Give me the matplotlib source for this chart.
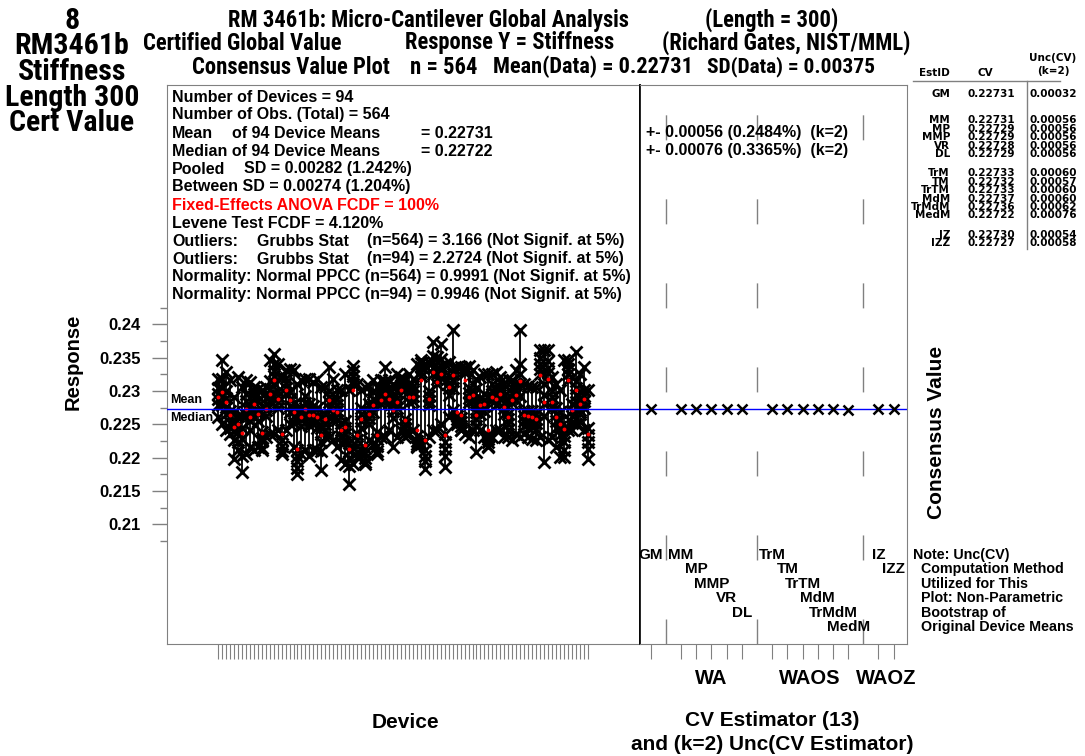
import numpy as np
import matplotlib
matplotlib.use('Agg')
import matplotlib.pyplot as plt
import matplotlib.font_manager as fm

W, H = 1085, 756

device_obs = [
    [0.2318, 0.2305, 0.2296, 0.2288, 0.2279, 0.2261],
    [0.2346, 0.2318, 0.2304, 0.2293, 0.2279, 0.2251],
    [0.2328, 0.2300, 0.2290, 0.2276, 0.2266, 0.2241],
    [0.2316, 0.2270, 0.2262, 0.2252, 0.2245, 0.2236],
    [0.2291, 0.2268, 0.2252, 0.2240, 0.2226, 0.2198],
    [0.2321, 0.2262, 0.2250, 0.2238, 0.2224, 0.2211],
    [0.2306, 0.2262, 0.2245, 0.2228, 0.2202, 0.2178],
    [0.2316, 0.2295, 0.2285, 0.2275, 0.2264, 0.2206],
    [0.2313, 0.2275, 0.2265, 0.2255, 0.2242, 0.2216],
    [0.2306, 0.2300, 0.2295, 0.2290, 0.2284, 0.2211],
    [0.2303, 0.2285, 0.2272, 0.2265, 0.2255, 0.2216],
    [0.2301, 0.2238, 0.2230, 0.2225, 0.2215, 0.2211],
    [0.2306, 0.2290, 0.2280, 0.2272, 0.2262, 0.2231],
    [0.2346, 0.2315, 0.2303, 0.2293, 0.2283, 0.2236],
    [0.2356, 0.2340, 0.2330, 0.2322, 0.2312, 0.2236],
    [0.2341, 0.2300, 0.2292, 0.2283, 0.2274, 0.2241],
    [0.2321, 0.2235, 0.2226, 0.2218, 0.2210, 0.2206],
    [0.2331, 0.2320, 0.2312, 0.2305, 0.2297, 0.2241],
    [0.2333, 0.2298, 0.2288, 0.2278, 0.2268, 0.2251],
    [0.2331, 0.2280, 0.2270, 0.2262, 0.2252, 0.2216],
    [0.2311, 0.2212, 0.2203, 0.2195, 0.2184, 0.2176],
    [0.2316, 0.2275, 0.2265, 0.2257, 0.2247, 0.2206],
    [0.2318, 0.2292, 0.2282, 0.2274, 0.2264, 0.2211],
    [0.2318, 0.2280, 0.2270, 0.2260, 0.2249, 0.2203],
    [0.2313, 0.2278, 0.2268, 0.2260, 0.2250, 0.2211],
    [0.2318, 0.2275, 0.2263, 0.2255, 0.2244, 0.2211],
    [0.2306, 0.2245, 0.2235, 0.2224, 0.2210, 0.2181],
    [0.2306, 0.2265, 0.2257, 0.2250, 0.2242, 0.2231],
    [0.2336, 0.2300, 0.2291, 0.2283, 0.2275, 0.2231],
    [0.2318, 0.2285, 0.2275, 0.2266, 0.2256, 0.2226],
    [0.2301, 0.2288, 0.2279, 0.2270, 0.2257, 0.2216],
    [0.2301, 0.2252, 0.2242, 0.2233, 0.2222, 0.2196],
    [0.2326, 0.2255, 0.2245, 0.2235, 0.2224, 0.2191],
    [0.2301, 0.2222, 0.2210, 0.2200, 0.2187, 0.2161],
    [0.2338, 0.2330, 0.2322, 0.2315, 0.2310, 0.2191],
    [0.2311, 0.2236, 0.2226, 0.2218, 0.2209, 0.2201],
    [0.2301, 0.2275, 0.2265, 0.2255, 0.2244, 0.2211],
    [0.2306, 0.2215, 0.2207, 0.2200, 0.2193, 0.2191],
    [0.2308, 0.2280, 0.2268, 0.2260, 0.2251, 0.2226],
    [0.2316, 0.2298, 0.2288, 0.2280, 0.2268, 0.2221],
    [0.2306, 0.2238, 0.2228, 0.2218, 0.2210, 0.2206],
    [0.2316, 0.2305, 0.2296, 0.2288, 0.2280, 0.2231],
    [0.2336, 0.2315, 0.2306, 0.2298, 0.2290, 0.2231],
    [0.2316, 0.2305, 0.2297, 0.2290, 0.2282, 0.2241],
    [0.2311, 0.2290, 0.2280, 0.2270, 0.2259, 0.2216],
    [0.2326, 0.2298, 0.2290, 0.2282, 0.2274, 0.2231],
    [0.2321, 0.2318, 0.2314, 0.2309, 0.2303, 0.2241],
    [0.2316, 0.2258, 0.2250, 0.2244, 0.2237, 0.2231],
    [0.2326, 0.2308, 0.2300, 0.2292, 0.2284, 0.2236],
    [0.2318, 0.2308, 0.2300, 0.2293, 0.2285, 0.2241],
    [0.2341, 0.2232, 0.2225, 0.2220, 0.2218, 0.2216],
    [0.2346, 0.2342, 0.2336, 0.2328, 0.2322, 0.2221],
    [0.2338, 0.2225, 0.2212, 0.2203, 0.2195, 0.2183],
    [0.2343, 0.2300, 0.2292, 0.2285, 0.2279, 0.2231],
    [0.2373, 0.2352, 0.2343, 0.2335, 0.2326, 0.2241],
    [0.2351, 0.2335, 0.2326, 0.2318, 0.2310, 0.2241],
    [0.2371, 0.2348, 0.2338, 0.2328, 0.2320, 0.2251],
    [0.2341, 0.2235, 0.2224, 0.2213, 0.2202, 0.2186],
    [0.2343, 0.2322, 0.2312, 0.2304, 0.2294, 0.2261],
    [0.2391, 0.2335, 0.2325, 0.2315, 0.2304, 0.2271],
    [0.2336, 0.2262, 0.2258, 0.2254, 0.2252, 0.2251],
    [0.2336, 0.2260, 0.2254, 0.2248, 0.2242, 0.2241],
    [0.2336, 0.2335, 0.2332, 0.2330, 0.2327, 0.2236],
    [0.2338, 0.2305, 0.2297, 0.2290, 0.2284, 0.2231],
    [0.2331, 0.2310, 0.2300, 0.2294, 0.2285, 0.2241],
    [0.2318, 0.2280, 0.2268, 0.2258, 0.2248, 0.2208],
    [0.2321, 0.2290, 0.2281, 0.2273, 0.2265, 0.2241],
    [0.2326, 0.2295, 0.2286, 0.2278, 0.2270, 0.2231],
    [0.2326, 0.2234, 0.2228, 0.2224, 0.2218, 0.2216],
    [0.2326, 0.2310, 0.2300, 0.2293, 0.2286, 0.2231],
    [0.2328, 0.2302, 0.2294, 0.2286, 0.2279, 0.2241],
    [0.2321, 0.2314, 0.2306, 0.2300, 0.2294, 0.2241],
    [0.2311, 0.2292, 0.2282, 0.2275, 0.2265, 0.2231],
    [0.2318, 0.2266, 0.2258, 0.2250, 0.2242, 0.2231],
    [0.2316, 0.2305, 0.2297, 0.2290, 0.2282, 0.2226],
    [0.2331, 0.2310, 0.2302, 0.2295, 0.2287, 0.2236],
    [0.2391, 0.2340, 0.2325, 0.2310, 0.2293, 0.2231],
    [0.2311, 0.2270, 0.2262, 0.2255, 0.2247, 0.2236],
    [0.2308, 0.2270, 0.2262, 0.2255, 0.2245, 0.2231],
    [0.2306, 0.2270, 0.2262, 0.2254, 0.2246, 0.2228],
    [0.2306, 0.2266, 0.2258, 0.2252, 0.2243, 0.2226],
    [0.2361, 0.2350, 0.2340, 0.2333, 0.2326, 0.2231],
    [0.2361, 0.2310, 0.2294, 0.2280, 0.2263, 0.2193],
    [0.2361, 0.2345, 0.2335, 0.2327, 0.2317, 0.2226],
    [0.2321, 0.2300, 0.2291, 0.2283, 0.2275, 0.2231],
    [0.2311, 0.2275, 0.2265, 0.2255, 0.2244, 0.2216],
    [0.2301, 0.2268, 0.2256, 0.2246, 0.2234, 0.2201],
    [0.2346, 0.2245, 0.2233, 0.2224, 0.2212, 0.2201],
    [0.2346, 0.2340, 0.2333, 0.2325, 0.2317, 0.2241],
    [0.2321, 0.2280, 0.2270, 0.2262, 0.2252, 0.2241],
    [0.2358, 0.2315, 0.2304, 0.2294, 0.2284, 0.2251],
    [0.2326, 0.2290, 0.2280, 0.2272, 0.2265, 0.2253],
    [0.2336, 0.2302, 0.2292, 0.2285, 0.2275, 0.2241],
    [0.2301, 0.2245, 0.2234, 0.2224, 0.2213, 0.2198],
]

est_ids = ['GM', 'MM', 'MP', 'MMP', 'VR', 'DL', 'TrM', 'TM', 'TrTM', 'MdM',
           'TrMdM', 'MedM', 'IZ', 'IZZ']
est_cv = [0.22731, 0.22731, 0.22729, 0.22729, 0.22728, 0.22729, 0.22733,
          0.22732, 0.22733, 0.22737, 0.22736, 0.22722, 0.22730, 0.22727]
est_unc = [0.00032, 0.00056, 0.00056, 0.00056, 0.00056, 0.00056, 0.00060,
           0.00057, 0.00060, 0.00060, 0.00062, 0.00076, 0.00054, 0.00058]
est_group = [0, 1, 1, 1, 1, 1, 2, 2, 2, 2, 2, 2, 3, 3]
group_names = ['', 'WA', 'WAOS', 'WAOZ']

y_ticks = [0.21, 0.215, 0.22, 0.225, 0.23, 0.235, 0.24]
y_tick_labels = ['0.21', '0.215', '0.22', '0.225', '0.23', '0.235', '0.24']
y_minor = [0.2075, 0.2125, 0.2175, 0.2225, 0.2275, 0.2325, 0.2375, 0.2425]

title_left = ['8', 'RM3461b', 'Stiffness', 'Length 300', 'Cert Value']
# (text, left x, right x, y) in pixels
title_pieces = [
    ('RM 3461b: Micro-Cantilever Global Analysis', 228, 630, 20),
    ('(Length = 300)', 705, 848, 20),
    ('Certified Global Value', 143, 355, 43),
    ('Response Y = Stiffness', 405, 632, 43),
    ('(Richard Gates, NIST/MML)', 662, 928, 43),
    ('Consensus Value Plot', 192, 395, 67),
    ('n = 564', 410, 480, 67),
    ('Mean(Data) = 0.22731', 493, 693, 67),
    ('SD(Data) = 0.00375', 707, 875, 67),
]
note_lines = ['Note: Unc(CV)', '  Computation Method', '  Utilized for This',
              '  Plot: Non-Parametric', '  Bootstrap of',
              '  Original Device Means']

plt.rcParams['font.family'] = ['Liberation Sans', 'DejaVu Sans']
plt.rcParams['font.weight'] = 'bold'
GRAY = '#808080'


def narrow_font():
    names = {f.name for f in fm.fontManager.ttflist}
    for n in ['Liberation Sans Narrow', 'Roboto Condensed', 'Arial Narrow',
              'Nimbus Sans Narrow', 'Open Sans Condensed']:
        if n in names:
            return {'family': n}
    for f in fm.fontManager.ttflist:
        if f.name == 'DejaVu Sans' and 'condensed' in str(f.stretch):
            return {'family': 'DejaVu Sans', 'fontstretch': 'condensed'}
    return {'family': 'Liberation Sans'}


NARROW = narrow_font()

fig = plt.figure(figsize=(W / 100, H / 100), dpi=100)
renderer = fig.canvas.get_renderer()


def ftext(x, y, s, **kw):
    kw.setdefault('va', 'center')
    return fig.text(x / W, 1 - y / H, s, **kw)


def fit_size(s, width, props):
    t = fig.text(0, 0, s, fontsize=10, **props)
    w = t.get_window_extent(renderer).width
    t.remove()
    return 10 * width / w


top, bot = 85, 644
ax1 = fig.add_axes([167 / W, 1 - bot / H, (640 - 167) / W, (bot - top) / H])
ax2 = fig.add_axes([640 / W, 1 - bot / H, (907 - 640) / W, (bot - top) / H],
                   sharey=ax1)

# ---- left panel: devices
xs = np.arange(1, len(device_obs) + 1)
for x, obs in zip(xs, device_obs):
    ax1.plot([x, x], [min(obs), max(obs)], color='black', lw=1.3, zorder=2)
    ax1.plot([x] * len(obs), obs, 'x', color='black', ms=9, mew=2,
             zorder=3)
dev_means = [np.mean(o) for o in device_obs]
ax1.plot(xs, dev_means, 'o', color='red', ms=2.8, mew=0, zorder=4)
ax1.axhline(est_cv[0], color='blue', lw=1, zorder=5)

ax1.set_xlim(-11.8, 107.1)
ax1.set_ylim(0.19205, 0.2759)
ax1.set_xticks(xs)
ax1.set_xticklabels([])
ax1.tick_params(axis='x', length=11, width=0.8, color=GRAY)
ax1.set_yticks(y_ticks)
ax1.set_yticklabels(y_tick_labels, fontsize=12)
ax1.set_yticks(y_minor, minor=True)
ax1.tick_params(axis='y', which='major', length=11, width=1, color=GRAY,
                pad=8)
ax1.tick_params(axis='y', which='minor', length=5, width=1, color=GRAY)
for s in ['left', 'top', 'bottom']:
    ax1.spines[s].set_color(GRAY)
ax1.spines['right'].set_color('black')
ax1.spines['right'].set_linewidth(1.2)

# ---- right panel: consensus estimators
est_x = [i + g + 1 for i, g in enumerate(est_group)]
ax2.plot(est_x, est_cv, 'x', color='black', ms=7, mew=1.8, zorder=3)
ax2.axhline(est_cv[0], color='blue', lw=1, zorder=2)
ax2.set_xlim(0.3, 17.88)
ax2.set_xticks(est_x)
ax2.set_xticklabels([])
ax2.tick_params(axis='x', length=11, width=0.8, color=GRAY)
ax2.tick_params(axis='y', which='both', left=False, labelleft=False)
for s in ['top', 'right', 'bottom']:
    ax2.spines[s].set_color(GRAY)
ax2.spines['left'].set_color('black')
ax2.spines['left'].set_linewidth(1.2)

trans = ax2.get_xaxis_transform()
for g in range(1, len(group_names)):
    members = [x for x, gg in zip(est_x, est_group) if gg == g]
    ax2.axvline(members[0] - 1, color=GRAY, lw=1, ls=(0, (18, 42.5)))
    ax2.text(np.mean(members), (bot - 678) / (bot - top), group_names[g],
             transform=trans, ha='center', va='center', fontsize=14.5,
             clip_on=False)

for i, name in enumerate(est_ids):
    row = est_group[:i].count(est_group[i])
    y = (bot - (555 + 14.4 * row)) / (bot - top)
    ax2.text(est_x[i], y, name, transform=trans, ha='center', va='center',
             fontsize=11)

# ---- titles
left_size = fit_size('Length 300', 134, NARROW)
for k, s in enumerate(title_left):
    ftext(72, 21 + 25.5 * k, s, ha='center', fontsize=left_size, **NARROW)
title_size = fit_size(title_pieces[0][0], title_pieces[0][2] - title_pieces[0][1],
                      NARROW)
for s, x0, x1, y in title_pieces:
    size = min(title_size, fit_size(s, x1 - x0, NARROW))
    ftext(x0, y, s, fontsize=size, **NARROW)

# ---- summary statistics box
fs = 11.5
ly = [97 + 18 * k for k in range(12)]
ftext(172, ly[0], 'Number of Devices = 94', fontsize=fs)
ftext(172, ly[1], 'Number of Obs. (Total) = 564', fontsize=fs)
ftext(172, ly[2], 'Mean', fontsize=fs)
ftext(232, ly[2], 'of 94 Device Means', fontsize=fs)
ftext(421, ly[2], '= 0.22731', fontsize=fs)
ftext(172, ly[3], 'Median of 94 Device Means', fontsize=fs)
ftext(421, ly[3], '= 0.22722', fontsize=fs)
ftext(172, ly[4], 'Pooled', fontsize=fs)
ftext(244, ly[4], 'SD = 0.00282 (1.242%)', fontsize=fs)
ftext(172, ly[5], 'Between SD = 0.00274 (1.204%)', fontsize=fs)
ftext(172, ly[6], 'Fixed-Effects ANOVA FCDF = 100%', fontsize=fs,
      color='red')
ftext(172, ly[7], 'Levene Test FCDF = 4.120%', fontsize=fs)
ftext(172, ly[8], 'Outliers:', fontsize=fs)
ftext(257, ly[8], 'Grubbs Stat', fontsize=fs)
ftext(367, ly[8], '(n=564) = 3.166 (Not Signif. at 5%)', fontsize=fs)
ftext(172, ly[9], 'Outliers:', fontsize=fs)
ftext(257, ly[9], 'Grubbs Stat', fontsize=fs)
ftext(367, ly[9], '(n=94) = 2.2724 (Not Signif. at 5%)', fontsize=fs)
ftext(172, ly[10], 'Normality: Normal PPCC (n=564) = 0.9991 (Not Signif. at 5%)',
      fontsize=fs)
ftext(172, ly[11], 'Normality: Normal PPCC (n=94) = 0.9946 (Not Signif. at 5%)',
      fontsize=fs)
ftext(646, ly[2], '+- 0.00056 (0.2484%)  (k=2)', fontsize=fs)
ftext(646, ly[3], '+- 0.00076 (0.3365%)  (k=2)', fontsize=fs)

ftext(170, 400, 'Mean', fontsize=9)
ftext(170, 418, 'Median', fontsize=9)

# ---- axis titles
ftext(73, 362, 'Response', rotation=90, ha='center', fontsize=14.5)
ftext(405, 722, 'Device', ha='center', fontsize=15)
ftext(772, 720, 'CV Estimator (13)', ha='center', fontsize=15)
ftext(772, 745, 'and (k=2) Unc(CV Estimator)', ha='center', fontsize=15)
ftext(937, 432, 'Consensus Value', rotation=90, ha='center', fontsize=15)

# ---- estimator table
TAB = {'family': 'DejaVu Sans', 'fontsize': 7.5}
ftext(1053, 58, 'Unc(CV)', ha='center', **TAB)
ftext(1053, 71, '(k=2)', ha='center', **TAB)
ftext(950, 73, 'EstID', ha='right', **TAB)
ftext(985, 73, 'CV', ha='center', **TAB)
fig.add_artist(plt.Line2D([913 / W, 1060 / W], [1 - 81 / H, 1 - 81 / H],
                          color=GRAY, lw=1))
row_y = []
for i, name in enumerate(est_ids):
    g = est_group[i]
    y = 94 + 8.4 * i + 11 * g + (7 if g > 0 else 0)
    row_y.append(y)
    ftext(950, y, name, ha='right', **TAB)
    ftext(1015, y, '%.5f' % est_cv[i], ha='right', **TAB)
    ftext(1030, y, '%.5f' % est_unc[i], ha='left', **TAB)
fig.add_artist(plt.Line2D([1027 / W, 1027 / W],
                          [1 - 81 / H, 1 - (row_y[-1] + 6) / H],
                          color=GRAY, lw=1))

for k, s in enumerate(note_lines):
    ftext(913, 555 + 14.4 * k, s, fontsize=10.3)

fig.savefig('out.png', dpi=100)
